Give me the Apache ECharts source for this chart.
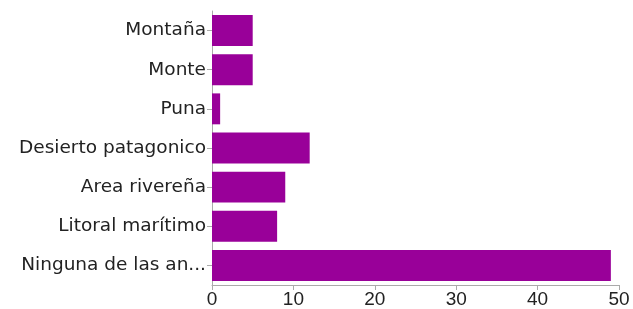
<!DOCTYPE html>
<html>
<head>
<meta charset="utf-8">
<script src="https://cdn.jsdelivr.net/npm/echarts@6/dist/echarts.min.js"></script>
<style>
  html, body { margin: 0; padding: 0; background: #fff; }
  #chart { width: 633px; height: 309px; }
</style>
</head>
<body>
<div id="chart"></div>
<script>
const categories = ['Montaña', 'Monte', 'Puna', 'Desierto patagonico', 'Area rivereña', 'Litoral marítimo', 'Ninguna de las an...'];
const counts = [5, 5, 1, 12, 9, 8, 49];
const xTicks = [0, 10, 20, 30, 40, 50];

const chart = echarts.init(document.getElementById('chart'));

chart.setOption({
    backgroundColor: '#fff',
    animation: false,
    grid: { left: 212, right: 14, top: 11, bottom: 23 },
    xAxis: {
        type: 'value',
        min: xTicks[0],
        max: xTicks[xTicks.length - 1],
        interval: 10,
        axisLine: { show: true, lineStyle: { color: '#aaa', width: 1 } },
        axisTick: { show: true, length: 5, lineStyle: { color: '#aaa' } },
        axisLabel: { color: '#222', fontSize: 19, fontFamily: 'Liberation Sans', margin: 5 },
        splitLine: { show: false },
    },
    yAxis: {
        type: 'category',
        data: categories,
        inverse: true,
        axisLine: { show: true, lineStyle: { color: '#aaa', width: 1 } },
        axisTick: { show: true, alignWithLabel: true, length: 5, lineStyle: { color: '#aaa' } },
        axisLabel: { color: '#222', fontSize: 18.5, fontFamily: 'DejaVu Sans', margin: 6 },
    },
    series: [{
        type: 'bar',
        data: counts,
        barCategoryGap: '21%',
        itemStyle: { color: '#990099' },
    }],
});
</script>
</body>
</html>
